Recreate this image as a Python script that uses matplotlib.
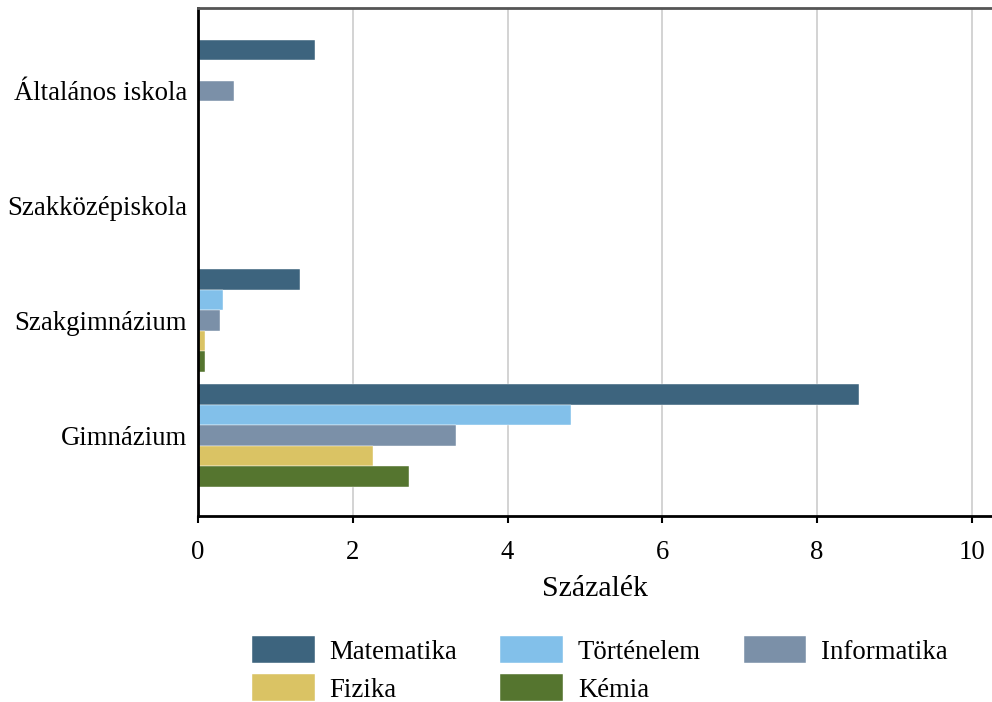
import matplotlib
matplotlib.use("Agg")
import matplotlib.pyplot as plt
import numpy as np

plt.rcParams['font.family'] = ['Liberation Serif', 'DejaVu Serif']

categories = ["Általános iskola", "Szakközépiskola", "Szakgimnázium", "Gimnázium"]
series_names = ["Matematika", "Történelem", "Informatika", "Fizika", "Kémia"]
colors = ["#3D647E", "#82C0EA", "#7B90A8", "#DAC364", "#55752F"]

matematika = [1.51, 0.0, 1.32, 8.54]
tortenelem = [0.02, 0.0, 0.32, 4.82]
informatika = [0.465, 0.0, 0.28, 3.33]
fizika = [0.0, 0.0, 0.09, 2.26]
kemia = [0.0, 0.0, 0.09, 2.73]
values = [matematika, tortenelem, informatika, fizika, kemia]

x_ticks = [0, 2, 4, 6, 8, 10]

fig = plt.figure(figsize=(9.92, 7.02), dpi=100)
ax = fig.add_axes([198 / 992, 1 - 516 / 702, 1 - 198 / 992, (516 - 8) / 702])

y = np.arange(len(categories))
h = 0.178
bars = []
for j, (name, vals, c) in enumerate(zip(series_names, values, colors)):
    b = ax.barh(y + (j - 2) * h, vals, height=h, color=c, label=name,
                edgecolor="white", linewidth=0.3)
    bars.append(b)

ax.set_xlim(0, 10.26)
ax.set_ylim(3.70, -0.72)
ax.set_yticks(y)
ax.set_yticklabels(categories)
ax.set_xticks(x_ticks)
ax.set_xticklabels([str(t) for t in x_ticks])

ax.tick_params(axis='y', length=0, pad=8, labelsize=19.3)
ax.tick_params(axis='x', length=5, width=1.5, pad=12, labelsize=19.3, color='black')

ax.grid(axis='x', color='#cccccc', linewidth=1.2)
ax.set_axisbelow(True)

for s in ["left", "bottom"]:
    ax.spines[s].set_color("black")
    ax.spines[s].set_linewidth(2)
ax.spines["top"].set_color("#555555")
ax.spines["top"].set_linewidth(2)
ax.spines["right"].set_visible(False)

ax.set_xlabel("Százalék", fontsize=21.5, labelpad=8)

# legend fills column by column; order entries so rows read left to right
order = [0, 3, 1, 4, 2]
fig.legend([bars[i] for i in order], [series_names[i] for i in order],
           loc="upper center", bbox_to_anchor=(600 / 992, 1 - 617 / 702),
           ncol=3, frameon=False, fontsize=19.3, handlelength=2.33, handleheight=1.2,
           handletextpad=0.56, columnspacing=1.6, labelspacing=0.35, borderpad=0.2)

fig.savefig("out.png", dpi=100)
